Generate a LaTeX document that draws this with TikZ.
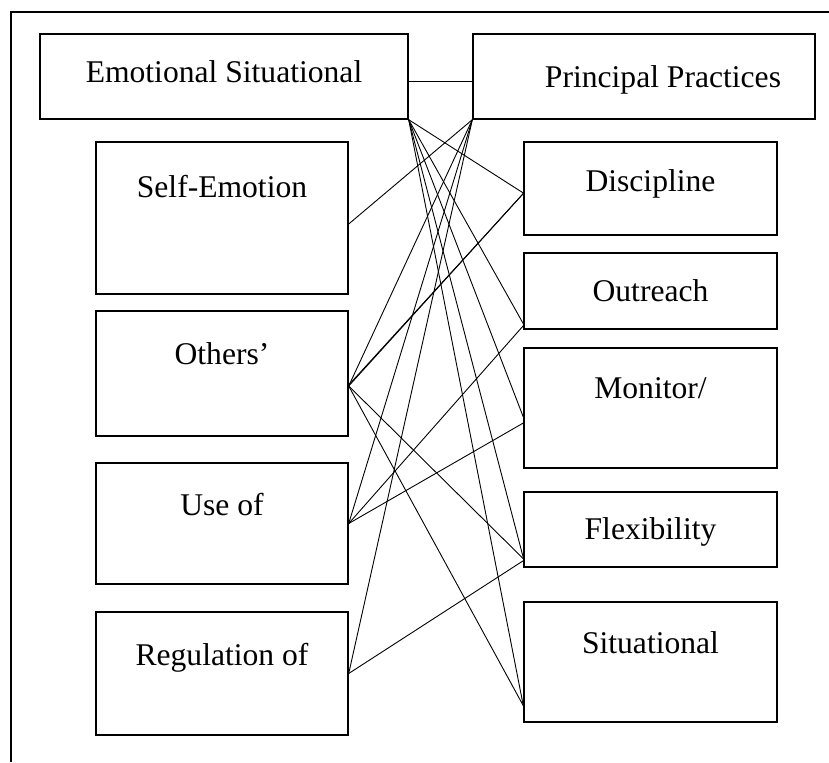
\documentclass[tikz,border=0pt]{standalone}
\usepackage{fontspec}
\setmainfont{Liberation Serif}
\usetikzlibrary{positioning}
\tikzstyle{every node}=[font=\fontsize{15.8}{19}\selectfont]
\tikzstyle{box}=[draw,line width=0.7pt,inner sep=0pt,minimum width=126pt]
\tikzstyle{head}=[box,minimum height=42.5pt]
\tikzstyle{tag}=[anchor=base,yshift=-26pt,inner sep=0pt]
\tikzstyle{link}=[line width=0.45pt]

\begin{document}
\begin{tikzpicture}[x=0.5pt,y=-0.5pt]
  \useasboundingbox (0,0) rectangle (829,762);
  % frame
  \draw[line width=0.7pt] (829,12) -- (11,12) -- (11,762);

  % headings
  \node[head,minimum width=184pt,label={[tag,yshift=1.5pt]north:Emotional Situational}] (es) at (224,76.5) {};
  \node[head,minimum width=171pt,label={[tag,xshift=9.5pt,yshift=-1pt]north:Principal Practices}] (pp) at (644,76.5) {};

  % left column
  \node[box,minimum height=76pt,label={[tag,yshift=-2pt]north:Self-Emotion}] (self) at (222,218) {};
  \node[box,minimum height=62.5pt,label={[tag,yshift=-1pt]north:Others’}] (oth) at (222,373.5) {};
  \node[box,minimum height=60.5pt,label={[tag,yshift=-0.5pt]north:Use of}] (use) at (222,523.5) {};
  \node[box,minimum height=61.5pt,label={[tag,yshift=-1pt]north:Regulation of}] (reg) at (222,673.5) {};

  % right column
  \node[box,minimum width=126.5pt,minimum height=46.5pt,label={[tag,yshift=1pt]north:Discipline}] (disc) at (650.5,188.5) {};
  \node[box,minimum width=126.5pt,minimum height=38pt,label={[tag,yshift=1.5pt]north:Outreach}] (out) at (650.5,291) {};
  \node[box,minimum width=126.5pt,minimum height=60pt,label={[tag,yshift=0.5pt]north:Monitor/}] (mon) at (650.5,408) {};
  \node[box,minimum width=126.5pt,minimum height=37.5pt,label={[tag,yshift=2pt]north:Flexibility}] (flex) at (650.5,529.5) {};
  \node[box,minimum width=126.5pt,minimum height=60pt,label={[tag]north:Situational}] (sit) at (650.5,662) {};

  \draw[link] ([yshift=-2.25pt]es.east) -- ([yshift=-2.25pt]pp.west);

  % from the headings
  \draw[link] (pp.south west) -- ([yshift=-3pt]self.east);
  \draw[link] (pp.south west) -- ([yshift=-6.25pt]oth.east);
  \draw[link] (pp.south west) -- (use.east);
  \draw[link] (pp.south west) -- (reg.east);
  \draw[link] (es.south east) -- ([yshift=-2.25pt]disc.west);
  \draw[link] (es.south east) -- ([yshift=3pt]out.south west);
  \draw[link] (es.south east) -- ([yshift=-4.5pt]mon.west);
  \draw[link] (es.south east) -- ([yshift=5pt]flex.south west);
  \draw[link] (es.south east) -- ([yshift=8.5pt]sit.south west);

  % between the columns
  \draw[link] ([yshift=-6.25pt]oth.east) -- ([yshift=-2.5pt]disc.west);
  \draw[link] ([yshift=-5.75pt]oth.east) -- ([yshift=-2.5pt]disc.west);
  \draw[link] ([yshift=-6.25pt]oth.east) -- ([yshift=4.5pt]flex.south west);
  \draw[link] ([yshift=-6.25pt]oth.east) -- ([yshift=8.5pt]sit.south west);
  \draw[link] (use.east) -- ([yshift=2pt]out.south west);
  \draw[link] (use.east) -- ([yshift=-7.5pt]mon.west);
  \draw[link] (reg.east) -- ([yshift=3.5pt]flex.south west);
\end{tikzpicture}
\end{document}
